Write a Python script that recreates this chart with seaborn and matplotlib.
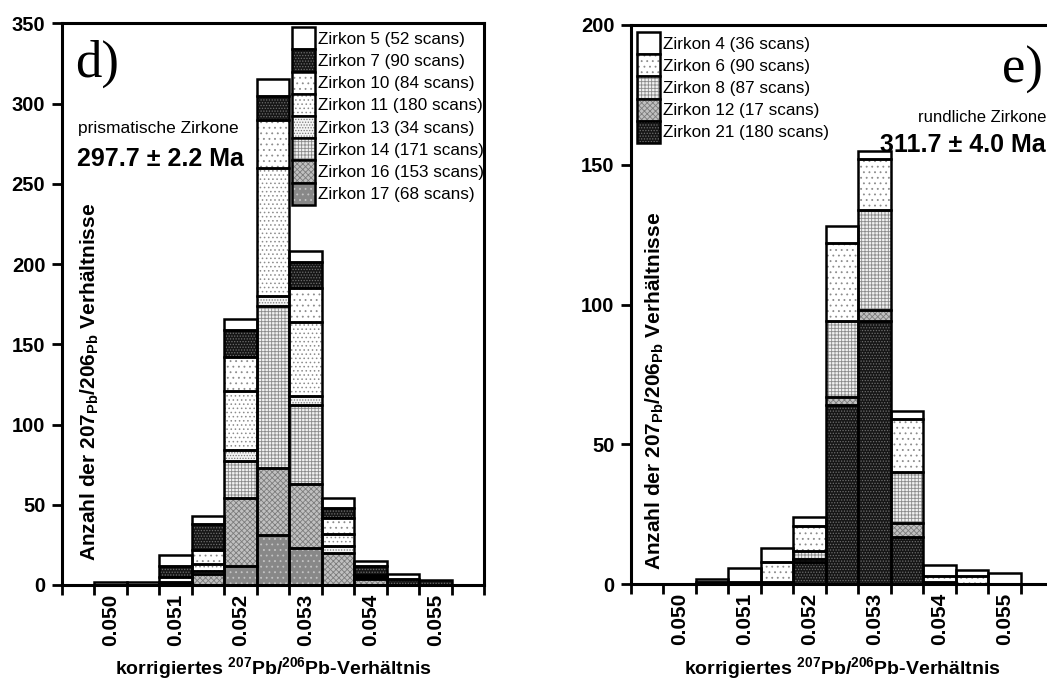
import numpy as np
import pandas as pd
import matplotlib.pyplot as plt
import seaborn as sns
from matplotlib.patches import Patch, Rectangle

# ---------------------------------------------------------------------
# data: counts of corrected 207Pb/206Pb ratios per bin (bin width 0.0005)
# ---------------------------------------------------------------------
ratio_bins = [0.0500, 0.0505, 0.0510, 0.0515, 0.0520, 0.0525,
              0.0530, 0.0535, 0.0540, 0.0545, 0.0550]
tick_values = [0.050, 0.051, 0.052, 0.053, 0.054, 0.055]
tick_labels = ["0.050", "0.051", "0.052", "0.053", "0.054", "0.055"]

# panel d) prismatische Zirkone
labels_d = ["Zirkon 5 (52 scans)", "Zirkon 7 (90 scans)", "Zirkon 10 (84 scans)",
            "Zirkon 11 (180 scans)", "Zirkon 13 (34 scans)", "Zirkon 14 (171 scans)",
            "Zirkon 16 (153 scans)", "Zirkon 17 (68 scans)"]
zr5 = [2, 2, 7, 5, 7, 10, 7, 6, 3, 3, 0]
zr7 = [0, 0, 7, 16, 17, 15, 16, 6, 6, 4, 3]
zr10 = [0, 0, 3, 9, 21, 30, 21, 10, 1, 0, 0]
zr11 = [0, 0, 1, 4, 37, 80, 46, 8, 1, 0, 0]
zr13 = [0, 0, 0, 2, 7, 6, 6, 4, 0, 0, 0]
zr14 = [0, 0, 0, 0, 23, 101, 49, 0, 0, 0, 0]
zr16 = [0, 0, 1, 7, 42, 42, 40, 20, 4, 0, 0]
zr17 = [0, 0, 0, 0, 12, 31, 23, 0, 0, 0, 0]
counts_d = [zr5, zr7, zr10, zr11, zr13, zr14, zr16, zr17]

# panel e) rundliche Zirkone
labels_e = ["Zirkon 4 (36 scans)", "Zirkon 6 (90 scans)", "Zirkon 8 (87 scans)",
            "Zirkon 12 (17 scans)", "Zirkon 21 (180 scans)"]
zr4 = [0, 1, 5, 5, 3, 6, 3, 3, 4, 2, 4]
zr6 = [0, 0, 0, 7, 9, 28, 18, 19, 2, 3, 0]
zr8 = [0, 0, 0, 0, 3, 27, 36, 18, 0, 0, 0]
zr12 = [0, 0, 0, 0, 1, 3, 4, 5, 0, 0, 0]
zr21 = [0, 1, 1, 1, 8, 64, 94, 17, 1, 0, 0]
counts_e = [zr4, zr6, zr8, zr12, zr21]

# fill styles (face colour, hatch colour, hatch)
WHITE = ("white", "white", None)
DARK = ("#161616", "#6e6e6e", "......")
SPARSE = ("white", "#8c8c8c", "...")
FINE = ("white", "#8c8c8c", "....")
DENSE = ("#f4f4f4", "#7a7a7a", "......")
GRID = ("#f0f0f0", "#8a8a8a", "+++++")
CROSS = ("#c0c0c0", "#7c7c7c", "xxxxxx")
GREY = ("#888888", "#c4c4c4", "...")
styles_d = [WHITE, DARK, SPARSE, FINE, DENSE, GRID, CROSS, GREY]
styles_e = [WHITE, SPARSE, GRID, CROSS, DARK]

W, H = 1047, 684
sns.set_theme(style="ticks")
plt.rcParams["font.family"] = ["Liberation Sans", "DejaVu Sans"]
plt.rcParams["mathtext.default"] = "regular"
plt.rcParams["axes.linewidth"] = 2.2
plt.rcParams["axes.edgecolor"] = "black"
plt.rcParams["hatch.linewidth"] = 0.6
for key in ["text.color", "axes.labelcolor", "xtick.color", "ytick.color"]:
    plt.rcParams[key] = "black"
SERIF = ["Liberation Serif", "DejaVu Serif"]

fig = plt.figure(figsize=(W / 100, H / 100), dpi=100)
ax_d = fig.add_axes([62 / W, (H - 585) / H, 422 / W, (585 - 23.3) / H])
ax_e = fig.add_axes([631 / W, (H - 584.3) / H, 422 / W, (584.3 - 25) / H])

edges = (np.append(np.array(ratio_bins) - 0.00025, ratio_bins[-1] + 0.00025)).tolist()


def stacked_hist(ax, labels, counts, styles, ymax, legend_xy):
    rows = []
    for lab, cnt in zip(labels, counts):
        for r, c in zip(ratio_bins, cnt):
            rows.append({"ratio": r, "count": c, "zirkon": lab})
    df = pd.DataFrame(rows)
    keys = sns.color_palette("husl", len(labels))
    palette = dict(zip(labels, keys))
    sns.histplot(data=df, x="ratio", weights="count", hue="zirkon",
                 hue_order=labels, multiple="stack", bins=edges,
                 palette=palette, alpha=1, legend=False, ax=ax)

    # restyle every bar segment with its hatch and a black outline
    lookup = {tuple(np.round(k, 3)): s for k, s in zip(keys, styles)}
    for p in list(ax.patches):
        face, hcol, hatch = lookup[tuple(np.round(p.get_facecolor()[:3], 3))]
        p.set_facecolor(face)
        p.set_edgecolor(hcol)
        p.set_hatch(hatch)
        p.set_linewidth(0)
        if p.get_height() > 0:
            ax.add_patch(Rectangle((p.get_x(), p.get_y()), p.get_width(), p.get_height(),
                                   fill=False, edgecolor="black", linewidth=1.8, zorder=3))

    lo, hi = ratio_bins[0] - 0.00075, ratio_bins[-1] + 0.00075
    ax.set_xlim(lo, hi)
    ax.set_ylim(0, ymax)
    ax.set_xticks(tick_values, labels=tick_labels, fontweight="bold", fontsize=15)
    ax.set_xticks(np.linspace(lo, hi, 14), minor=True)
    ax.tick_params(axis="x", which="major", length=0, labelrotation=90, pad=6)
    ax.tick_params(axis="x", which="minor", length=7, width=2, direction="out")
    yt = list(range(0, ymax + 1, 50))
    ax.set_yticks(yt, labels=[str(v) for v in yt], fontweight="bold", fontsize=14.5)
    ax.tick_params(axis="y", length=7, width=2, direction="out", pad=5)
    ax.set_ylabel("")
    ax.set_xlabel("korrigiertes $^{207}$Pb/$^{206}$Pb-Verhältnis",
                  fontweight="bold", fontsize=14, labelpad=7)
    for s in ax.spines.values():
        s.set_linewidth(2.2)

    handles = [(Patch(facecolor=f, edgecolor=hc, hatch=h, linewidth=0),
                Patch(fill=False, edgecolor="black", linewidth=1.8))
               for f, hc, h in styles]
    ax.legend(handles, labels, loc="upper left", bbox_to_anchor=legend_xy,
              bbox_transform=fig.transFigure, frameon=False, borderpad=0,
              borderaxespad=0, handlelength=1.35, handleheight=1.62,
              labelspacing=0, handletextpad=0.2, fontsize=12.3)


stacked_hist(ax_d, labels_d, counts_d, styles_d, 350, (291.7 / W, 1 - 27.3 / H))
stacked_hist(ax_e, labels_e, counts_e, styles_e, 200, (637 / W, 1 - 32 / H))

ylab = "Anzahl der 207$_{Pb}$/206$_{Pb}$ Verhältnisse"
fig.text(90 / W, 1 - 382 / H, ylab, rotation=90, ha="center", va="center",
         fontweight="bold", fontsize=15)
fig.text(655 / W, 1 - 391 / H, ylab, rotation=90, ha="center", va="center",
         fontweight="bold", fontsize=15)

fig.text(75 / W, 1 - 77 / H, "d)", family=SERIF, fontsize=38)
fig.text(78 / W, 1 - 133 / H, "prismatische Zirkone", fontsize=12.5)
fig.text(77 / W, 1 - 166 / H, "297.7 ± 2.2 Ma", fontweight="bold", fontsize=18)

fig.text(1043 / W, 1 - 83 / H, "e)", family=SERIF, fontsize=38, ha="right")
fig.text(1046 / W, 1 - 121.7 / H, "rundliche Zirkone", fontsize=12, ha="right")
fig.text(1046 / W, 1 - 151.7 / H, "311.7 ± 4.0 Ma", fontweight="bold",
         fontsize=18, ha="right")

fig.savefig("out.png", dpi=100)
